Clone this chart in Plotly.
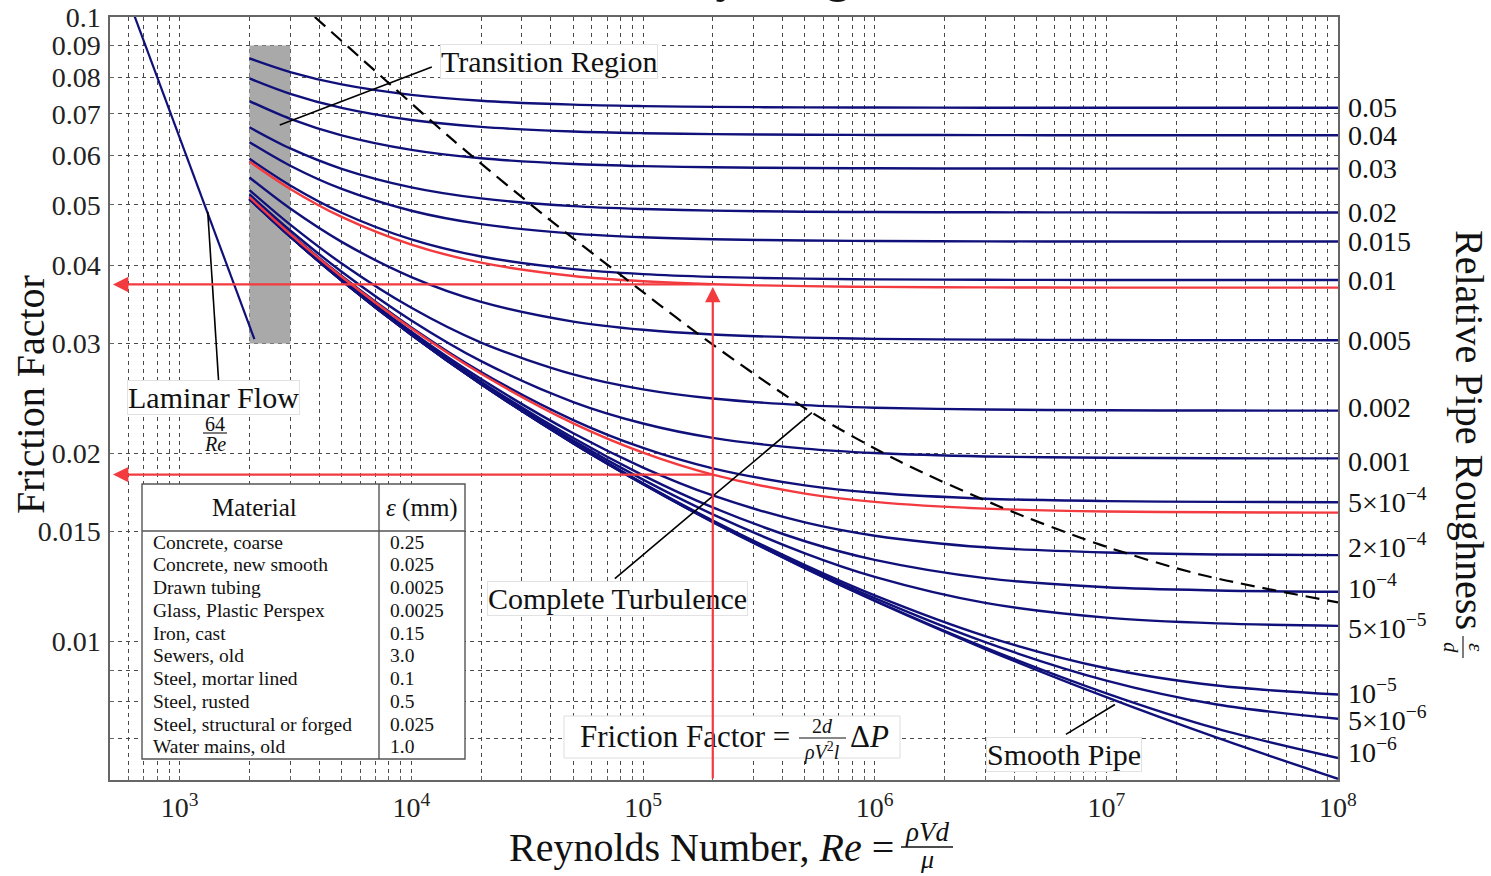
import math
import plotly.graph_objects as go

# ---------------- data ----------------
RE = [2e3, 3e3, 5e3, 1e4, 2e4, 5e4, 1e5, 2e5, 5e5, 1e6, 3e6, 1e7, 3e7, 1e8]

F_R0_05 = [0.08584, 0.08162, 0.07799, 0.07505, 0.07344, 0.07238, 0.07200, 0.07179, 0.07166, 0.07161, 0.07157, 0.07155, 0.07155, 0.07155]
F_R0_04 = [0.07972, 0.07532, 0.07152, 0.06840, 0.06669, 0.06556, 0.06515, 0.06493, 0.06479, 0.06473, 0.06469, 0.06467, 0.06467, 0.06467]
F_R0_03 = [0.07334, 0.06870, 0.06464, 0.06127, 0.05940, 0.05816, 0.05770, 0.05746, 0.05730, 0.05724, 0.05720, 0.05718, 0.05717, 0.05717]
F_R0_02 = [0.06658, 0.06159, 0.05714, 0.05336, 0.05123, 0.04979, 0.04926, 0.04897, 0.04878, 0.04871, 0.04867, 0.04865, 0.04864, 0.04864]
F_R0_015 = [0.06302, 0.05778, 0.05304, 0.04895, 0.04659, 0.04499, 0.04439, 0.04407, 0.04386, 0.04378, 0.04372, 0.04370, 0.04369, 0.04369]
F_R0_01 = [0.05928, 0.05373, 0.04859, 0.04404, 0.04135, 0.03947, 0.03875, 0.03836, 0.03811, 0.03801, 0.03795, 0.03792, 0.03791, 0.03791]
F_R0_005 = [0.05533, 0.04934, 0.04364, 0.03833, 0.03499, 0.03253, 0.03156, 0.03102, 0.03066, 0.03052, 0.03043, 0.03039, 0.03038, 0.03037]
F_R0_002 = [0.05283, 0.04650, 0.04030, 0.03422, 0.03010, 0.02677, 0.02533, 0.02449, 0.02390, 0.02368, 0.02352, 0.02345, 0.02343, 0.02342]
F_R0_001 = [0.05197, 0.04551, 0.03910, 0.03267, 0.02812, 0.02418, 0.02234, 0.02119, 0.02036, 0.02003, 0.01978, 0.01969, 0.01965, 0.01964]
F_R5E_4 = [0.05153, 0.04500, 0.03848, 0.03184, 0.02701, 0.02262, 0.02041, 0.01893, 0.01778, 0.01730, 0.01693, 0.01678, 0.01673, 0.01671]
F_R2E_4 = [0.05127, 0.04470, 0.03810, 0.03132, 0.02631, 0.02155, 0.01899, 0.01713, 0.01551, 0.01477, 0.01415, 0.01388, 0.01378, 0.01375]
F_R1E_4 = [0.05118, 0.04459, 0.03797, 0.03115, 0.02606, 0.02117, 0.01845, 0.01639, 0.01447, 0.01351, 0.01263, 0.01221, 0.01207, 0.01201]
F_R5E_5 = [0.05114, 0.04454, 0.03791, 0.03106, 0.02594, 0.02097, 0.01816, 0.01598, 0.01384, 0.01269, 0.01153, 0.01092, 0.01069, 0.01059]
F_R1E_5 = [0.05110, 0.04450, 0.03786, 0.03099, 0.02584, 0.02080, 0.01792, 0.01562, 0.01325, 0.01185, 0.01020, 0.009059, 0.008500, 0.008224]
F_R5E_6 = [0.05110, 0.04450, 0.03785, 0.03098, 0.02583, 0.02078, 0.01789, 0.01558, 0.01317, 0.01173, 0.009974, 0.008657, 0.007927, 0.007519]
F_R1E_6 = [0.05109, 0.04449, 0.03784, 0.03097, 0.02582, 0.02076, 0.01787, 0.01554, 0.01311, 0.01163, 0.009776, 0.008258, 0.007249, 0.006506]
F_SMOOTH = [0.05109, 0.04449, 0.03784, 0.03097, 0.02581, 0.02076, 0.01786, 0.01553, 0.01309, 0.01161, 0.009724, 0.008142, 0.007013, 0.006026]

ROUGHNESS_LABELS = ["0.05", "0.04", "0.03", "0.02", "0.015", "0.01", "0.005", "0.002", "0.001",
                    "5×10<sup>−4</sup>", "2×10<sup>−4</sup>", "10<sup>−4</sup>", "5×10<sup>−5</sup>",
                    "10<sup>−5</sup>", "5×10<sup>−6</sup>", "10<sup>−6</sup>"]
LABEL_SHIFT = [0, 0, 0, 0, 0, 0, 0, 3, -3, 2, 10, 5, -1, 3, 0, 8]

F_RED_A = [0.05867, 0.05305, 0.04784, 0.04320, 0.04042, 0.03848, 0.03774, 0.03733, 0.03707, 0.03697, 0.03690, 0.03687, 0.03686, 0.03686]
F_RED_B = [0.05146, 0.04492, 0.03838, 0.03170, 0.02683, 0.02235, 0.02006, 0.01850, 0.01725, 0.01673, 0.01632, 0.01615, 0.01610, 0.01608]

LAMINAR_RE = [600, 2100]
LAMINAR_F = [0.1067, 0.0305]

TRANSITION_RE = [2000, 3000]
TRANSITION_F = [0.03, 0.09]

BOUNDARY_RE = [3827, 8067, 15094, 39590, 96870, 2.001e5, 5.356e5, 1.285e6, 3.472e6, 9.384e6, 2.536e7, 1e8]
BOUNDARY_F = [0.1, 0.07812, 0.06356, 0.04734, 0.03658, 0.02987, 0.02325, 0.01941, 0.01644, 0.01429, 0.01280, 0.01155]

ARROW_RE = 2e5
ARROW_TIP_RE = 515
ARROW_F = [0.0373, 0.0185]
ARROW_BASE_F = 0.006

LEAD_TRANSITION = ([2703, 12250], [0.06718, 0.08318])
LEAD_LAMINAR = ([1321, 1474], [0.04875, 0.02587])
LEAD_TURBULENCE = ([75530, 5.356e5], [0.01261, 0.02325])
LEAD_SMOOTH = ([6.69e6, 1.089e7], [0.007098, 0.007927])

Y_TICKS = [0.1, 0.09, 0.08, 0.07, 0.06, 0.05, 0.04, 0.03, 0.02, 0.015, 0.01, 0.009, 0.008, 0.007]
Y_TICK_TEXT = ["0.1", "0.09", "0.08", "0.07", "0.06", "0.05", "0.04", "0.03", "0.02", "0.015", "0.01", "", "", ""]
X_DECADES = [3, 4, 5, 6, 7, 8]

MATERIALS = ["Concrete, coarse", "Concrete, new smooth", "Drawn tubing", "Glass, Plastic Perspex",
             "Iron, cast", "Sewers, old", "Steel, mortar lined", "Steel, rusted",
             "Steel, structural or forged", "Water mains, old"]
EPS_MM = ["0.25", "0.025", "0.0025", "0.0025", "0.15", "3.0", "0.1", "0.5", "0.025", "1.0"]

# ---------------- figure ----------------
W, H = 1491, 876
ML, MR, MT, MB = 110, 153, 17, 96
PW, PH = W - ML - MR, H - MT - MB
SERIF = "Liberation Serif"
NAVY = "#10107a"
RED = "#f23a3f"


def PX(x):
    return (x - ML) / PW


def PY(y):
    return (H - MB - y) / PH


fig = go.Figure()

# transition region block
fig.add_trace(go.Scatter(
    x=[TRANSITION_RE[0], TRANSITION_RE[1], TRANSITION_RE[1], TRANSITION_RE[0], TRANSITION_RE[0]],
    y=[TRANSITION_F[0], TRANSITION_F[0], TRANSITION_F[1], TRANSITION_F[1], TRANSITION_F[0]],
    mode="lines", fill="toself", fillcolor="#a9a9a9", line=dict(width=0), hoverinfo="skip"))

# laminar line
fig.add_trace(go.Scatter(x=LAMINAR_RE, y=LAMINAR_F, mode="lines",
                         line=dict(color=NAVY, width=2.2), hoverinfo="skip"))

CURVES = [F_R0_05, F_R0_04, F_R0_03, F_R0_02, F_R0_015, F_R0_01, F_R0_005, F_R0_002, F_R0_001,
          F_R5E_4, F_R2E_4, F_R1E_4, F_R5E_5, F_R1E_5, F_R5E_6, F_R1E_6]
for c in CURVES + [F_SMOOTH]:
    fig.add_trace(go.Scatter(x=RE, y=c, mode="lines",
                             line=dict(color=NAVY, width=2.4, shape="spline", smoothing=0.9),
                             hoverinfo="skip"))
for c in [F_RED_A, F_RED_B]:
    fig.add_trace(go.Scatter(x=RE, y=c, mode="lines",
                             line=dict(color=RED, width=2.4, shape="spline", smoothing=0.9),
                             hoverinfo="skip"))

# complete turbulence boundary
fig.add_trace(go.Scatter(x=BOUNDARY_RE, y=BOUNDARY_F, mode="lines",
                         line=dict(color="black", width=2.2, dash="14px,8px", shape="spline", smoothing=0.8),
                         hoverinfo="skip"))

# leader lines
for lx, ly in [LEAD_TRANSITION, LEAD_LAMINAR, LEAD_TURBULENCE, LEAD_SMOOTH]:
    fig.add_trace(go.Scatter(x=lx, y=ly, mode="lines", line=dict(color="black", width=1.6),
                             hoverinfo="skip"))

# ---------------- text helpers ----------------

def text(s, x, y, size, xanchor="center", yanchor="middle", **kw):
    fig.add_annotation(text=s, x=PX(x), y=PY(y), xref="paper", yref="paper", showarrow=False,
                       font=dict(size=size, family=SERIF, color="#111"),
                       xanchor=xanchor, yanchor=yanchor, **kw)


def seg(x0, y0, x1, y1, color="#111", width=1.3):
    fig.add_shape(type="line", xref="paper", yref="paper", x0=PX(x0), y0=PY(y0), x1=PX(x1), y1=PY(y1),
                  line=dict(color=color, width=width), layer="above")


def box(x0, y0, x1, y1, line="#dddddd", width=1):
    fig.add_shape(type="rect", xref="paper", yref="paper", x0=PX(x0), y0=PY(y1), x1=PX(x1), y1=PY(y0),
                  fillcolor="white", line=dict(color=line, width=width), layer="above")


# label boxes
text("Transition Region", 549, 61, 30, bgcolor="white", bordercolor="#e2e2e2", borderwidth=1, borderpad=0)
text("Laminar Flow", 213, 397, 30, bgcolor="white", bordercolor="#e2e2e2", borderwidth=1, borderpad=0)
text("64", 215, 424, 20)
seg(203, 433, 227, 433, width=1.1)
text("<i>Re</i>", 215, 444, 20)
text("Complete Turbulence", 617, 598, 30, bgcolor="white", bordercolor="#e2e2e2", borderwidth=1, borderpad=0)
text("Smooth Pipe", 1064, 754, 30, bgcolor="white", bordercolor="#e2e2e2", borderwidth=1, borderpad=0)

# friction factor formula
box(564, 716, 900, 758)
text("Friction Factor =", 792, 736, 31, xanchor="right")
text("2<i>d</i>", 822, 726, 20)
seg(799, 738, 846, 738, width=1.1)
text("<i>ρV</i><sup>2</sup><i>l</i>", 822, 751, 20)
text("Δ<i>P</i>", 848, 736, 31, xanchor="left")

# material table
box(142, 484, 465, 759, line="#555555", width=1.4)
seg(142, 531, 465, 531, color="#555555", width=1.4)
seg(379, 484, 379, 759, color="#555555", width=1.4)
text("Material", 254, 508, 25)
text("<i>ε</i> (mm)", 422, 508, 25)
for i, (m, e) in enumerate(zip(MATERIALS, EPS_MM)):
    yy = 542 + i * 22.75
    text(m, 151, yy, 19.5, xanchor="left")
    text(e, 388, yy, 19.5, xanchor="left")

# right-hand roughness labels
for c, lab, sh in zip(CURVES, ROUGHNESS_LABELS, LABEL_SHIFT):
    fig.add_annotation(text=lab, xref="paper", x=1, xanchor="left", xshift=8,
                       yref="y", y=math.log10(c[-1]), yshift=sh, showarrow=False,
                       font=dict(size=28, family=SERIF, color="#111"))

# axis titles
text("Friction Factor", 30, 395, 40, textangle=-90)
text("Reynolds Number, <i>Re</i> =", 896, 847, 40, xanchor="right")
text("<i>ρVd</i>", 927, 832, 27)
seg(901, 847, 953, 847, width=1.3)
text("<i>μ</i>", 927, 860, 26)
text("Relative Pipe Roughness", 1470, 430, 40, textangle=90)
text("<i>ε</i>", 1476, 647, 21, textangle=90)
seg(1463, 636, 1463, 658, width=1.1)
text("<i>d</i>", 1451, 647, 21, textangle=90)

# cut-off title
fig.add_annotation(text="Moody Diagram", xref="paper", yref="paper", x=PX(762), y=1, yanchor="bottom",
                   yshift=13, showarrow=False, font=dict(size=50, family=SERIF, color="#111"))

# red arrows (drawn last so they sit over the label boxes)
for fa in ARROW_F:
    fig.add_annotation(x=math.log10(ARROW_TIP_RE), y=math.log10(fa), ax=math.log10(ARROW_RE),
                       ay=math.log10(fa), xref="x", yref="y", axref="x", ayref="y", text="",
                       showarrow=True, arrowhead=2, arrowsize=1.4, arrowwidth=2.2, arrowcolor=RED)
fig.add_annotation(x=math.log10(ARROW_RE), y=math.log10(ARROW_F[0]) - 0.004, ax=math.log10(ARROW_RE),
                   ay=math.log10(ARROW_BASE_F), xref="x", yref="y", axref="x", ayref="y", text="",
                   showarrow=True, arrowhead=2, arrowsize=1.4, arrowwidth=2.2, arrowcolor=RED)

# ---------------- axes ----------------
xt, xtt = [], []
for v in [600, 700, 800, 900]:
    xt.append(v)
    xtt.append("")
for d in X_DECADES:
    for k in range(1, 10):
        if d == 8 and k > 1:
            break
        xt.append(k * 10 ** d)
        xtt.append(f"10<sup>{d}</sup>" if k == 1 else "")

axis_common = dict(showgrid=True, gridcolor="#4a4a4a", gridwidth=1, griddash="4px,4px",
                   showline=True, linecolor="#666666", linewidth=1.5, mirror=True,
                   ticks="inside", ticklen=4, tickcolor="#666666", zeroline=False, automargin=False,
                   tickfont=dict(size=28, family=SERIF, color="#222"))

fig.update_xaxes(type="log", range=[math.log10(500), 8], tickmode="array", tickvals=xt, ticktext=xtt,
                 ticklabelstandoff=2, **axis_common)
fig.update_yaxes(type="log", range=[math.log10(0.006), -1], tickmode="array", tickvals=Y_TICKS,
                 ticktext=Y_TICK_TEXT, ticklabelstandoff=2, **axis_common)

fig.update_layout(width=W, height=H, margin=dict(l=ML, r=MR, t=MT, b=MB, pad=0),
                  paper_bgcolor="white", plot_bgcolor="white", showlegend=False,
                  template="none", font=dict(family=SERIF, color="#111"))

fig.write_html("out.html", config={"displayModeBar": False},
               post_script="document.body.style.margin='0px';document.body.style.overflow='hidden';")
